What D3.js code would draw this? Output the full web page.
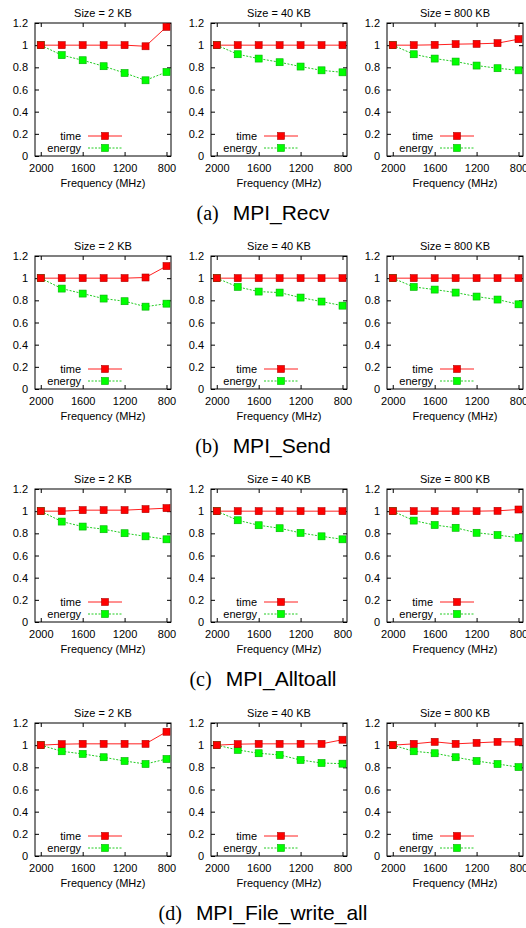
<!DOCTYPE html>
<html>
<head>
<meta charset="utf-8">
<script src="https://cdn.jsdelivr.net/npm/d3@7"></script>
<style>
body { margin: 0; background: #fff; }
svg { display: block; }
</style>
</head>
<body>
<div id="vizholder"></div>
<script>
// frequencies (MHz) and panel labels
var freqs = [2000, 1800, 1600, 1400, 1200, 1000, 800];
var sizes = ["2 KB", "40 KB", "800 KB"];
var yTicks = [0, 0.2, 0.4, 0.6, 0.8, 1, 1.2];
var xTicks = [2000, 1600, 1200, 800];
var captionTags = ["(a)", "(b)", "(c)", "(d)"];
var captionNames = ["MPI_Recv", "MPI_Send", "MPI_Alltoall", "MPI_File_write_all"];

// normalised values, one row per message size
var recvTime = [
  [1, 1, 1, 1, 1, 0.99, 1.165],
  [1, 1, 1, 1, 1, 1, 1],
  [1, 1, 1.003, 1.009, 1.012, 1.018, 1.054]
];
var recvEnergy = [
  [1, 0.91, 0.864, 0.81, 0.749, 0.683, 0.758],
  [1, 0.918, 0.879, 0.846, 0.807, 0.773, 0.755],
  [1, 0.918, 0.879, 0.852, 0.816, 0.792, 0.773]
];
var sendTime = [
  [1, 1, 1, 1, 1, 1.006, 1.109],
  [1, 1, 1, 1, 1, 1, 1],
  [1, 1, 1, 1, 1, 1, 1]
];
var sendEnergy = [
  [1, 0.906, 0.861, 0.816, 0.792, 0.743, 0.77],
  [1, 0.921, 0.879, 0.87, 0.825, 0.789, 0.752],
  [1, 0.921, 0.897, 0.87, 0.834, 0.807, 0.764]
];
var alltoallTime = [
  [1, 1, 1.009, 1.009, 1.009, 1.018, 1.027],
  [1, 1, 1, 1, 1, 1, 1],
  [1, 1, 1, 1, 1, 1.003, 1.015]
];
var alltoallEnergy = [
  [1, 0.906, 0.861, 0.837, 0.801, 0.773, 0.746],
  [1, 0.918, 0.873, 0.846, 0.804, 0.773, 0.746],
  [1, 0.915, 0.875, 0.85, 0.805, 0.785, 0.76]
];
var writeTime = [
  [1, 1.009, 1.012, 1.012, 1.012, 1.012, 1.121],
  [1, 1.009, 1.012, 1.012, 1.012, 1.012, 1.049],
  [1, 1.012, 1.03, 1.012, 1.021, 1.03, 1.03]
];
var writeEnergy = [
  [1, 0.945, 0.921, 0.891, 0.857, 0.83, 0.875],
  [1, 0.957, 0.927, 0.912, 0.866, 0.839, 0.833],
  [1, 0.945, 0.927, 0.891, 0.857, 0.83, 0.802]
];

var timeRows = [recvTime, sendTime, alltoallTime, writeTime];
var energyRows = [recvEnergy, sendEnergy, alltoallEnergy, writeEnergy];

var W = 526, H = 928;
var plotW = 136, plotH = 133;
var lefts = [35, 211, 387];
var tops = [23, 256, 489, 723];
var font = "'Liberation Sans', Arial, sans-serif";
var fs = "11px";

var svg = d3.select("#vizholder").append("svg")
  .attr("width", W).attr("height", H);

var x = d3.scaleLinear().domain([2055, 757]).range([0, plotW]);
var y = d3.scaleLinear().domain([0, 1.2]).range([plotH, 0]);

var line = d3.line()
  .x(function(d, i) { return x(freqs[i]); })
  .y(function(d) { return y(d); });

function marker(g, cx, cy, fill, stroke) {
  g.append("rect")
    .attr("x", cx - 3.5).attr("y", cy - 3.5)
    .attr("width", 7).attr("height", 7)
    .attr("fill", fill).attr("stroke", stroke).attr("stroke-width", 0.6);
}

tops.forEach(function(top, r) {
  sizes.forEach(function(size, c) {
    var g = svg.append("g")
      .attr("transform", "translate(" + lefts[c] + "," + top + ")");

    // axes, gnuplot style with inward mirrored ticks
    g.append("g").attr("transform", "translate(0," + plotH + ")")
      .call(d3.axisBottom(x).tickValues(xTicks).tickSizeInner(-4).tickSizeOuter(0).tickPadding(8)
        .tickFormat(d3.format("d")));
    g.append("g")
      .call(d3.axisTop(x).tickValues(xTicks).tickSizeInner(-4).tickSizeOuter(0).tickFormat(""));
    g.append("g")
      .call(d3.axisLeft(y).tickValues(yTicks).tickSizeInner(-4).tickSizeOuter(0).tickPadding(7)
        .tickFormat(function(d) { return String(+d.toFixed(1)); }));
    g.append("g").attr("transform", "translate(" + plotW + ",0)")
      .call(d3.axisRight(y).tickValues(yTicks).tickSizeInner(-4).tickSizeOuter(0).tickFormat(""));

    g.selectAll(".domain").remove();
    g.selectAll(".tick line").attr("stroke", "#000");
    g.selectAll(".tick text").attr("fill", "#000")
      .style("font-family", font).style("font-size", fs);

    g.append("rect")
      .attr("width", plotW).attr("height", plotH)
      .attr("fill", "none").attr("stroke", "#000").attr("stroke-width", 1);

    g.append("text")
      .attr("x", plotW / 2).attr("y", -6)
      .attr("text-anchor", "middle")
      .style("font-family", font).style("font-size", fs)
      .text("Size = " + size);

    g.append("text")
      .attr("x", plotW / 2).attr("y", plotH + 31)
      .attr("text-anchor", "middle")
      .style("font-family", font).style("font-size", fs)
      .text("Frequency (MHz)");

    var tv = timeRows[r][c], ev = energyRows[r][c];

    g.append("path").datum(ev)
      .attr("d", line).attr("fill", "none")
      .attr("stroke", "#22cc22").attr("stroke-width", 1)
      .attr("stroke-dasharray", "2,1.5");
    g.append("path").datum(tv)
      .attr("d", line).attr("fill", "none")
      .attr("stroke", "#ff2020").attr("stroke-width", 1);

    ev.forEach(function(v, i) { marker(g, x(freqs[i]), y(v), "#00ff00", "#00b000"); });
    tv.forEach(function(v, i) { marker(g, x(freqs[i]), y(v), "#ff0000", "#b00000"); });

    // legend
    var lg = g.append("g").attr("transform", "translate(0," + (plotH - 20) + ")");
    lg.append("text").attr("x", 46).attr("y", 4).attr("text-anchor", "end")
      .style("font-family", font).style("font-size", fs).text("time");
    lg.append("line").attr("x1", 53).attr("x2", 87).attr("y1", 0).attr("y2", 0)
      .attr("stroke", "#ff2020").attr("stroke-width", 1);
    marker(lg, 70, 0, "#ff0000", "#b00000");
    lg.append("text").attr("x", 46).attr("y", 16).attr("text-anchor", "end")
      .style("font-family", font).style("font-size", fs).text("energy");
    lg.append("line").attr("x1", 53).attr("x2", 87).attr("y1", 12).attr("y2", 12)
      .attr("stroke", "#22cc22").attr("stroke-width", 1).attr("stroke-dasharray", "2,1.5");
    marker(lg, 70, 12, "#00ff00", "#00b000");
  });

  // caption under each row
  var cap = svg.append("text")
    .attr("x", 263).attr("y", top + plotH + 64)
    .attr("text-anchor", "middle");
  cap.append("tspan")
    .style("font-family", "'Liberation Serif', 'Times New Roman', serif")
    .style("font-size", "20px")
    .text(captionTags[r]);
  cap.append("tspan")
    .attr("dx", 14)
    .style("font-family", font)
    .style("font-size", "21px")
    .text(captionNames[r]);
});
</script>
</body>
</html>
